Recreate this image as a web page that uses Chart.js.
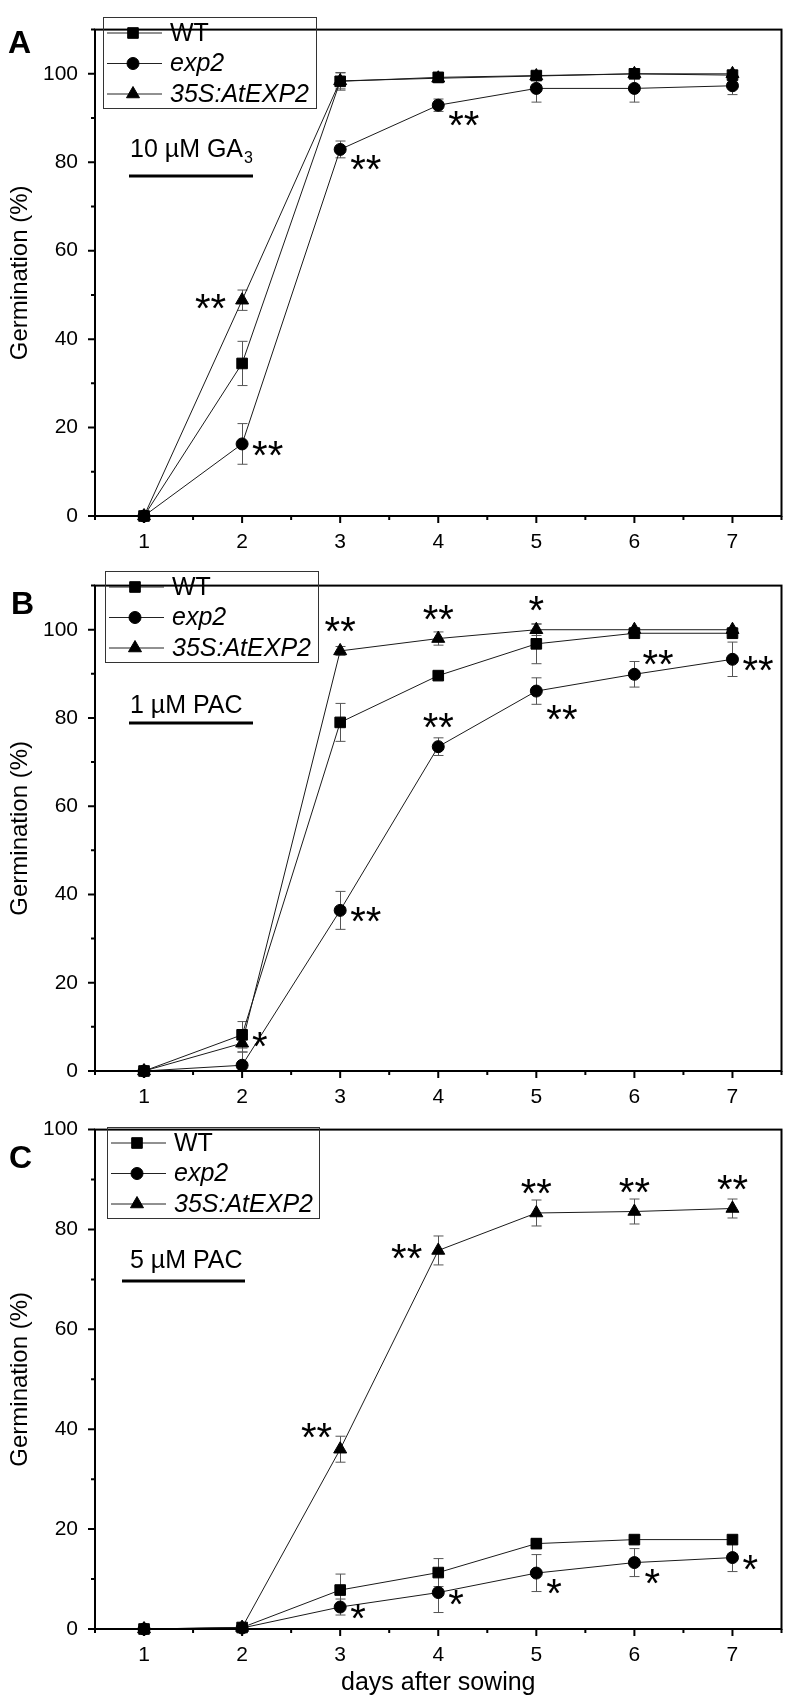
<!DOCTYPE html>
<html lang="en">
<head>
<meta charset="UTF-8">
<title>Germination after sowing</title>
<script src="https://cdn.jsdelivr.net/npm/chart.js@4.4.1/dist/chart.umd.min.js"></script>
<style>
  body { margin: 0; background: #fff; }
  #wrap { position: relative; width: 790px; height: 1704px; }
  #wrap canvas { position: absolute; left: 0; }
</style>
</head>
<body>
<div id="wrap">
  <canvas id="panelA" width="790" height="556" style="top:0px"></canvas>
  <canvas id="panelB" width="790" height="556" style="top:556px"></canvas>
  <canvas id="panelC" width="790" height="604" style="top:1100px"></canvas>
</div>
<script>
const days = [1, 2, 3, 4, 5, 6, 7];
const seriesNames = ['WT', 'exp2', '35S:AtEXP2'];
const yTickValues = [0, 20, 40, 60, 80, 100];

// A: 10 uM GA3
const gaWT = [0, 34.5, 98.3, 99.2, 99.6, 100, 99.7];
const gaWTErr = [0, 5, 2, 1, 0.8, 0.5, 0.5];
const gaExp2 = [0, 16.3, 82.9, 92.9, 96.7, 96.7, 97.3];
const gaExp2Err = [0, 4.6, 1.9, 1.4, 3.1, 3.1, 2];
const ga35S = [0, 48.8, 98.4, 99, 99.5, 100, 100];
const ga35SErr = [0, 2.3, 1.8, 1, 0.8, 0.8, 0.8];
// [series, day, mark, placement]
const gaStars = [[2, 2, '**', 'left'], [1, 2, '**', 'right'], [1, 3, '**', 'lowRight'], [1, 4, '**', 'lowRight']];

// B: 1 uM PAC
const pac1WT = [0, 8.2, 79, 89.6, 96.8, 99.2, 99.2];
const pac1WTErr = [0, 3, 4.3, 0.5, 4.5, 0.5, 0.5];
const pac1Exp2 = [0, 1.3, 36.4, 73.5, 86.1, 89.9, 93.3];
const pac1Exp2Err = [0, 3, 4.3, 2, 3, 2.9, 3.9];
const pac135S = [0, 6.3, 95.2, 98, 100, 100, 100];
const pac135SErr = [0, 2, 1, 1.5, 1.3, 0.5, 0.5];
const pac1Stars = [[2, 3, '**', 'above'], [2, 4, '**', 'above'], [2, 5, '*', 'above'], [1, 4, '**', 'above'],
  [1, 5, '**', 'belowRight'], [1, 6, '**', 'aboveRight'], [1, 7, '**', 'right'], [1, 3, '**', 'right'], [0, 2, '*', 'right']];

// C: 5 uM PAC
const pac5WT = [0, 0.3, 7.8, 11.3, 17.1, 17.9, 17.9];
const pac5WTErr = [0, 0, 3.2, 2.8, 1, 0.5, 0.5];
const pac5Exp2 = [0, 0.2, 4.4, 7.3, 11.2, 13.3, 14.3];
const pac5Exp2Err = [0, 0, 1.6, 4, 3.7, 2.8, 2.8];
const pac535S = [0, 0.3, 36, 75.8, 83.3, 83.6, 84.2];
const pac535SErr = [0, 0, 2.6, 2.9, 2.6, 2.5, 1.9];
const pac5Stars = [[2, 3, '**', 'aboveLeft'], [2, 4, '**', 'left'], [2, 5, '**', 'above'], [2, 6, '**', 'above'], [2, 7, '**', 'above'],
  [1, 3, '*', 'right'], [1, 4, '*', 'right'], [1, 5, '*', 'lowRight'], [1, 6, '*', 'lowRight'], [1, 7, '*', 'right']];

const FONT = 'Arial, "Liberation Sans", Helvetica, sans-serif';
Chart.defaults.font.family = FONT;
Chart.defaults.color = '#000';

const markers = ['rect', 'circle', 'triangle'];
const markerRadius = [7.5, 6, 7.5];
const starSize = 40;
const placements = {
  right:      { dx: 10, dy: 3, align: 'left' },
  lowRight:   { dx: 10, dy: 12, align: 'left' },
  belowRight: { dx: 10, dy: 20, align: 'left' },
  aboveRight: { dx: 8, dy: -18, align: 'left' },
  above:      { dx: 0, dy: -28, align: 'center' },
  left:       { dx: -16, dy: 0, align: 'right' },
  aboveLeft:  { dx: -8, dy: -20, align: 'right' }
};

function drawMarker(ctx, style, r, x, y) {
  ctx.beginPath();
  if (style === 'rect') {
    const s = r * Math.SQRT1_2;
    ctx.rect(x - s, y - s, 2 * s, 2 * s);
  } else if (style === 'circle') {
    ctx.arc(x, y, r, 0, Math.PI * 2);
  } else {
    for (let k = 0; k < 3; k++) {
      const a = k * 2 * Math.PI / 3;
      const px = x + Math.sin(a) * r, py = y - Math.cos(a) * r;
      k ? ctx.lineTo(px, py) : ctx.moveTo(px, py);
    }
    ctx.closePath();
  }
  ctx.fill();
  ctx.stroke();
}

const panelPlugin = {
  id: 'panel',
  beforeDatasetsDraw(chart, args, cfg) {
    const { ctx } = chart;
    const xs = chart.scales.x, ys = chart.scales.y;
    ctx.save();
    ctx.strokeStyle = '#555';
    ctx.lineWidth = 1;
    cfg.values.forEach((vals, i) => {
      vals.forEach((v, k) => {
        const e = cfg.errors[i][k];
        if (!e) return;
        const px = Math.round(xs.getPixelForValue(days[k])) + 0.5;
        const hi = ys.getPixelForValue(v + e);
        const lo = ys.getPixelForValue(Math.max(0, v - e));
        ctx.beginPath();
        ctx.moveTo(px, hi); ctx.lineTo(px, lo);
        ctx.moveTo(px - 5, hi); ctx.lineTo(px + 5, hi);
        if (v - e > 0) { ctx.moveTo(px - 5, lo); ctx.lineTo(px + 5, lo); }
        ctx.stroke();
      });
    });
    ctx.restore();
  },
  afterDraw(chart, args, cfg) {
    const { ctx, chartArea: a } = chart;
    const xs = chart.scales.x, ys = chart.scales.y;
    ctx.save();
    // frame
    ctx.strokeStyle = '#000';
    ctx.lineWidth = 2;
    ctx.strokeRect(a.left, a.top, a.right - a.left, a.bottom - a.top);
    // ticks
    ctx.beginPath();
    for (let v = 0; v <= cfg.yMax; v += 10) {
      const py = ys.getPixelForValue(v);
      ctx.moveTo(a.left, py); ctx.lineTo(a.left - (v % 20 === 0 ? 7 : 4), py);
    }
    for (let v = 0.5; v <= 7.5; v += 0.5) {
      const px = xs.getPixelForValue(v);
      ctx.moveTo(px, a.bottom); ctx.lineTo(px, a.bottom + (v % 1 === 0 ? 7 : 4));
    }
    ctx.stroke();

    // legend box
    const L = cfg.legend;
    ctx.lineWidth = 1;
    ctx.strokeStyle = '#333';
    ctx.strokeRect(L.x + 0.5, L.y + 0.5, L.w, L.h);
    seriesNames.forEach((name, i) => {
      const ry = L.y + 16 + i * 30.5;
      ctx.strokeStyle = '#222';
      ctx.beginPath();
      ctx.moveTo(L.x + 4, ry); ctx.lineTo(L.x + 59, ry);
      ctx.stroke();
      ctx.fillStyle = '#000';
      ctx.strokeStyle = '#000';
      drawMarker(ctx, markers[i], markerRadius[i], L.x + 30, ry);
      ctx.font = (i ? 'italic ' : '') + '25px ' + FONT;
      ctx.textBaseline = 'middle';
      ctx.textAlign = 'left';
      ctx.fillText(name, L.x + 67, ry + 1);
    });

    // condition label
    const c = cfg.cond;
    ctx.fillStyle = '#000';
    ctx.textBaseline = 'alphabetic';
    ctx.font = '25px ' + FONT;
    ctx.fillText(c.text, c.x, c.y);
    if (c.sub) {
      const w = ctx.measureText(c.text).width;
      ctx.font = '16px ' + FONT;
      ctx.fillText(c.sub, c.x + w + 1, c.y + 6);
    }
    ctx.lineWidth = 3;
    ctx.beginPath();
    ctx.moveTo(c.x0, c.barY); ctx.lineTo(c.x1, c.barY);
    ctx.stroke();

    // panel letter
    ctx.font = 'bold 32px ' + FONT;
    ctx.fillText(cfg.letter.text, cfg.letter.x, cfg.letter.y);

    // significance marks
    ctx.font = starSize + 'px ' + FONT;
    cfg.stars.forEach(([s, d, mark, where]) => {
      const p = placements[where];
      const px = xs.getPixelForValue(d);
      const py = ys.getPixelForValue(cfg.values[s][days.indexOf(d)]);
      ctx.textAlign = p.align;
      ctx.fillText(mark, px + p.dx, py + p.dy + starSize * 0.55);
    });
    ctx.restore();
  }
};

function makePanel(id, cfg) {
  const datasets = cfg.values.map((vals, i) => ({
    label: seriesNames[i],
    data: days.map((d, k) => ({ x: d, y: vals[k] })),
    borderColor: '#1a1a1a',
    borderWidth: 1,
    pointStyle: markers[i],
    pointRadius: markerRadius[i],
    pointHoverRadius: markerRadius[i],
    pointBackgroundColor: '#000',
    pointBorderColor: '#000',
    pointBorderWidth: 1,
    tension: 0,
    clip: false
  }));
  return new Chart(document.getElementById(id), {
    type: 'line',
    data: { datasets },
    options: {
      responsive: false,
      animation: false,
      events: [],
      layout: { padding: { left: 0, right: 8, top: cfg.areaTop, bottom: 0 } },
      plugins: { legend: { display: false }, tooltip: { enabled: false }, panel: cfg },
      scales: {
        x: {
          type: 'linear', min: 0.5, max: 7.5,
          afterBuildTicks: s => { s.ticks = days.map(v => ({ value: v })); },
          afterFit: s => { s.height = cfg.xHeight; },
          grid: { display: false, drawTicks: false },
          border: { display: false },
          ticks: { padding: 14, font: { size: 21 }, color: '#000', autoSkip: false, maxRotation: 0 },
          title: { display: !!cfg.xTitle, text: cfg.xTitle || '', font: { size: 25 }, color: '#000', padding: { top: 0, bottom: 6 } }
        },
        y: {
          min: 0, max: cfg.yMax,
          afterBuildTicks: s => { s.ticks = yTickValues.map(v => ({ value: v })); },
          afterFit: s => { s.width = 95; },
          grid: { display: false, drawTicks: false },
          border: { display: false },
          ticks: { padding: 17, font: { size: 21 }, color: '#000', autoSkip: false },
          title: { display: true, text: 'Germination (%)', font: { size: 24 }, color: '#000', padding: { top: 6, bottom: 0 } }
        }
      }
    },
    plugins: [panelPlugin]
  });
}

makePanel('panelA', {
  values: [gaWT, gaExp2, ga35S], errors: [gaWTErr, gaExp2Err, ga35SErr], stars: gaStars,
  yMax: 110, areaTop: 7, xHeight: 40,
  legend: { x: 103, y: 17, w: 213, h: 91 },
  cond: { text: '10 \u00B5M GA', sub: '3', x: 130, y: 157, x0: 129, x1: 253, barY: 176 },
  letter: { text: 'A', x: 8, y: 53 }
});

makePanel('panelB', {
  values: [pac1WT, pac1Exp2, pac135S], errors: [pac1WTErr, pac1Exp2Err, pac135SErr], stars: pac1Stars,
  yMax: 110, areaTop: 7, xHeight: 41,
  legend: { x: 105, y: 15, w: 213, h: 91 },
  cond: { text: '1 \u00B5M PAC', x: 130, y: 157, x0: 129, x1: 253, barY: 167 },
  letter: { text: 'B', x: 11, y: 58 }
});

makePanel('panelC', {
  values: [pac5WT, pac5Exp2, pac535S], errors: [pac5WTErr, pac5Exp2Err, pac535SErr], stars: pac5Stars,
  yMax: 100, areaTop: 18, xHeight: 75, xTitle: 'days after sowing',
  legend: { x: 107, y: 27, w: 212, h: 91 },
  cond: { text: '5 \u00B5M PAC', x: 130, y: 168, x0: 122, x1: 245, barY: 181 },
  letter: { text: 'C', x: 9, y: 68 }
});
</script>
</body>
</html>
